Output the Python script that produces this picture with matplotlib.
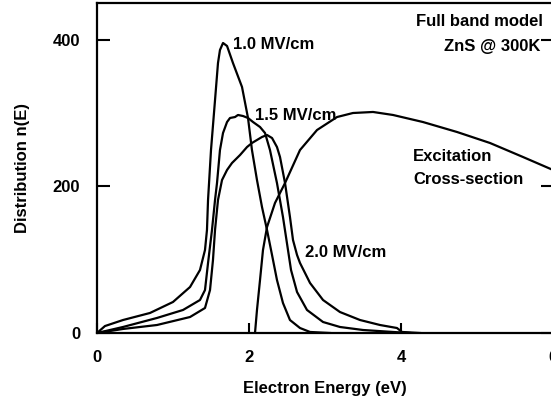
import matplotlib
matplotlib.use("Agg")
import matplotlib.pyplot as plt

# ---- data ----
e_10 = [0, 0.105, 0.342, 0.697, 1.0, 1.224, 1.355, 1.421, 1.447, 1.461, 1.5, 1.553, 1.592, 1.618,
        1.658, 1.711, 1.789, 1.908, 1.987, 2.039, 2.105, 2.171, 2.237, 2.303, 2.368, 2.447, 2.539,
        2.671, 2.803, 3.066]
n_10 = [0, 9.5, 17.7, 27.3, 42.3, 62.7, 85.9, 113.2, 140.5, 181.4, 249.5, 317.7, 368.2, 385.9,
        395.5, 391.4, 368.2, 335.5, 293.2, 249.5, 208.6, 171.8, 140.5, 106.4, 72.3, 40.9, 17.7,
        6.8, 1.4, 0]

e_15 = [0, 0.171, 0.342, 0.789, 1.132, 1.355, 1.421, 1.461, 1.513, 1.553, 1.579, 1.618, 1.658,
        1.711, 1.75, 1.816, 1.855, 1.921, 1.987, 2.053, 2.145, 2.211, 2.276, 2.368, 2.447, 2.513,
        2.553, 2.632, 2.763, 2.974, 3.197, 3.5, 3.895, 4.118]
n_15 = [0, 4.1, 8.2, 20.5, 31.4, 45.0, 58.6, 95.5, 140.5, 181.4, 204.5, 249.5, 272.7,
        287.7, 293.2, 294.5, 297.3, 295.9, 293.2, 287.7, 280.9, 272.7, 249.5, 204.5, 158.2, 113.2,
        85.9, 55.9, 31.4, 15.0, 8.2, 4.1, 1.4, 0]

e_20 = [0, 0.171, 0.342, 0.789, 1.224, 1.421, 1.487, 1.526, 1.553, 1.592, 1.645, 1.711, 1.776,
        1.882, 1.974, 2.039, 2.105, 2.171, 2.237, 2.303, 2.368, 2.408, 2.474, 2.539, 2.579, 2.632,
        2.671, 2.803, 2.974, 3.197, 3.461, 3.724, 3.947, 4.013, 4.25]
n_20 = [0, 2.7, 5.5, 10.9, 21.8, 34.1, 58.6, 99.5, 140.5, 181.4, 208.6, 222.3, 231.8,
        242.7, 253.6, 259.1, 263.2, 267.3, 270.0, 265.9, 253.6, 240.0, 204.5, 158.2, 126.8, 106.4,
        95.5, 68.2, 45.0, 28.6, 17.7, 10.9, 6.8, 1.4, 0]

e_exc = [2.079, 2.105, 2.145, 2.184, 2.237, 2.342, 2.474, 2.671, 2.895, 3.158, 3.368, 3.632,
         3.895, 4.289, 4.737, 5.171, 5.605, 6.0]
n_exc = [0, 31.4, 72.3, 113.2, 144.5, 177.3, 204.5, 249.5, 276.8, 294.5, 300.0, 301.4,
         297.3, 287.7, 274.1, 259.1, 240.0, 222.3]

x_ticks = [0, 2, 4, 6]
y_ticks = [0, 200, 400]

plt.rcParams['font.family'] = ['Liberation Sans', 'DejaVu Sans']
plt.rcParams['font.weight'] = 'bold'

fig = plt.figure(figsize=(5.51, 4.01), dpi=100)
ax = fig.add_axes([97 / 551, 68 / 401, 456 / 551, 330 / 401])

lw = 1.6
for e, n in [(e_10, n_10), (e_15, n_15), (e_20, n_20), (e_exc, n_exc)]:
    ax.plot(e, n, color='black', lw=lw, solid_joinstyle='round')

ax.set_xlim(0, 6)
ax.set_ylim(0, 450)
ax.set_xticks(x_ticks)
ax.set_yticks(y_ticks)
ax.set_xticklabels([str(v) for v in x_ticks], fontsize=12, fontweight='bold')
ax.set_yticklabels([str(v) for v in y_ticks], fontsize=12, fontweight='bold')
ax.tick_params(axis='x', direction='in', length=7, width=1.5, pad=12, top=False)
ax.tick_params(axis='y', direction='in', length=9, width=1.5, pad=12, right=True)
for s in ax.spines.values():
    s.set_linewidth(1.6)

ax.set_xlabel('Electron Energy (eV)', fontsize=12, fontweight='bold', va='center')
ax.xaxis.set_label_coords(0.5, -0.167)
ax.set_ylabel('Distribution n(E)', fontsize=12, fontweight='bold', va='center')
ax.yaxis.set_label_coords(-0.164, 0.5)

tk = dict(fontsize=12, fontweight='bold', color='black')
ax.text(1.789, 394, '1.0 MV/cm', ha='left', va='center', **tk)
ax.text(2.079, 297, '1.5 MV/cm', ha='left', va='center', **tk)
ax.text(2.737, 110, '2.0 MV/cm', ha='left', va='center', **tk)
ax.text(5.87, 425, 'Full band model', ha='right', va='center', **tk)
ax.text(5.84, 391, 'ZnS @ 300K', ha='right', va='center', **tk)
ax.text(4.158, 241, 'Excitation', ha='left', va='center', **tk)
ax.text(4.158, 210, 'Cross-section', ha='left', va='center', **tk)

fig.savefig('out.png', dpi=100)
